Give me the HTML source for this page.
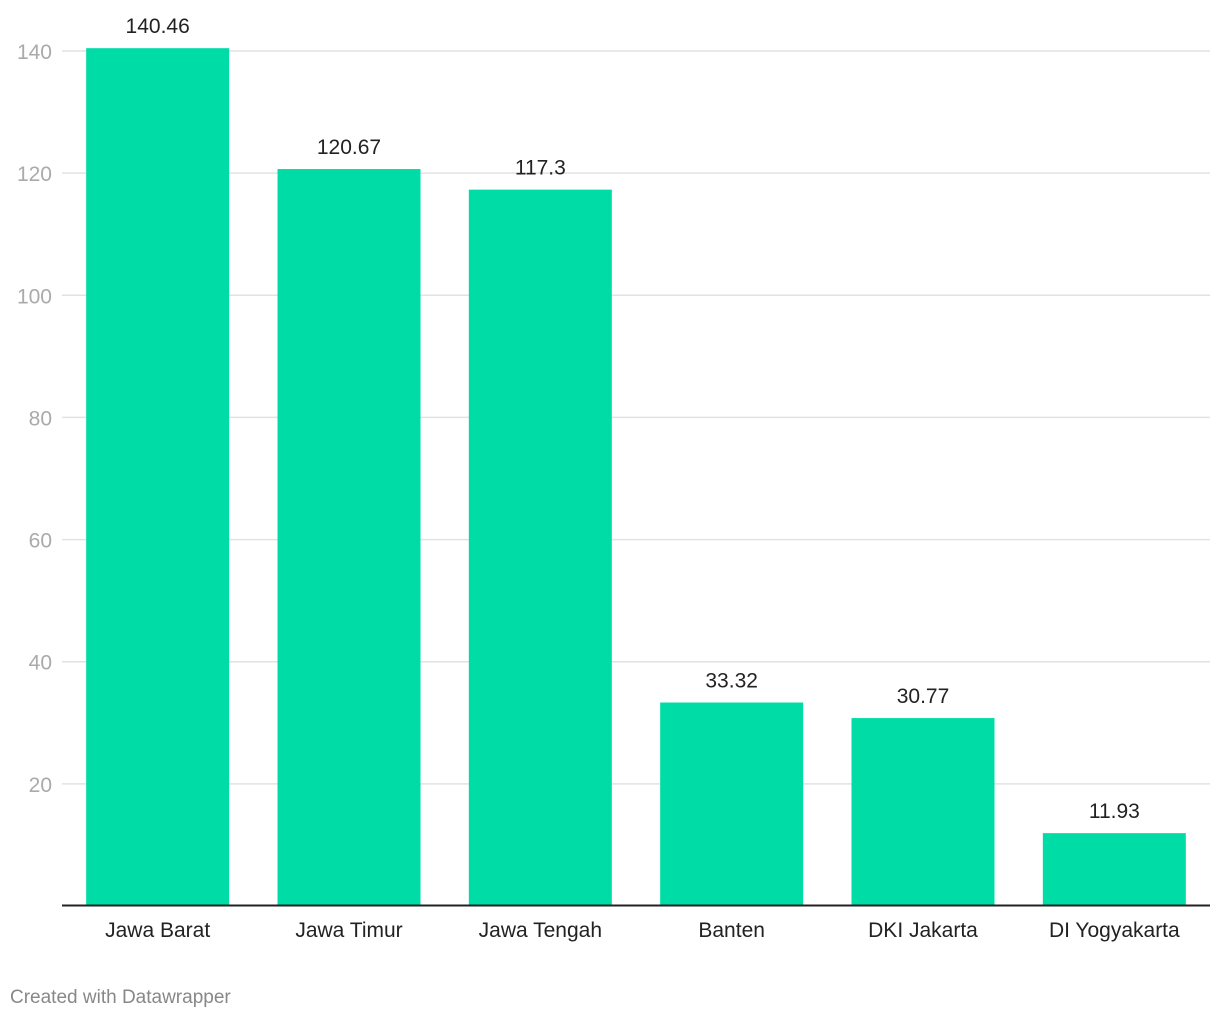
<!DOCTYPE html>
<html><head><meta charset="utf-8">
<style>
body{margin:0;background:#fff;width:1220px;height:1020px;overflow:hidden;font-family:"Liberation Sans",sans-serif;}
svg text{font-family:"Liberation Sans",sans-serif;}
</style></head><body>
<svg id="chart" width="1220" height="1020" xmlns="http://www.w3.org/2000/svg">
<g id="grid"></g>
<g id="bars"></g>
<g id="xlabels"></g>
<line x1="62" x2="1210" y1="905.5" y2="905.5" stroke="#222" stroke-width="2"/>
<text x="10" y="1003" font-size="19" fill="#888">Created with Datawrapper</text>
</svg>
<script>
const categories=["Jawa Barat","Jawa Timur","Jawa Tengah","Banten","DKI Jakarta","DI Yogyakarta"];
const values=[140.46,120.67,117.3,33.32,30.77,11.93];
const valueLabels=["140.46","120.67","117.3","33.32","30.77","11.93"];
const ticks=[20,40,60,80,100,120,140];
const NS="http://www.w3.org/2000/svg";
const x0=62,x1=1210,yBase=906,yTop=51,maxV=140;
const y=v=>yBase-(v/maxV)*(yBase-yTop);
const step=(x1-x0)/categories.length, bw=143;
const bx=i=>x0+i*step+(step-bw)/2;
function mk(t,a,p){const e=document.createElementNS(NS,t);for(const k in a)e.setAttribute(k,a[k]);p.appendChild(e);return e;}
const grid=document.getElementById('grid'),bars=document.getElementById('bars'),xl=document.getElementById('xlabels');
ticks.forEach(t=>{
  const l=mk('line',{x1:62,x2:1210,y1:y(t),y2:y(t),stroke:'#e2e2e2','stroke-width':1.5},grid);
  
  
  const tx=mk('text',{x:52,y:y(t)+8,'text-anchor':'end','font-size':21,fill:'#aaa'},grid);
  tx.textContent=t;
  
  
});
categories.forEach((c,i)=>{
  const r=mk('rect',{x:bx(i),y:y(values[i]),width:bw,height:yBase-y(values[i]),fill:'#00dca6'},bars);
  
  
  const v=mk('text',{x:bx(i)+bw/2,y:y(values[i])-15,'text-anchor':'middle','font-size':21,fill:'#222'},bars);
  v.textContent=valueLabels[i];
  
  
  const t=mk('text',{x:bx(i)+bw/2,y:937,'text-anchor':'middle','font-size':21,fill:'#222'},xl);
  t.textContent=c;
  
  
});
</script>
</body></html>
